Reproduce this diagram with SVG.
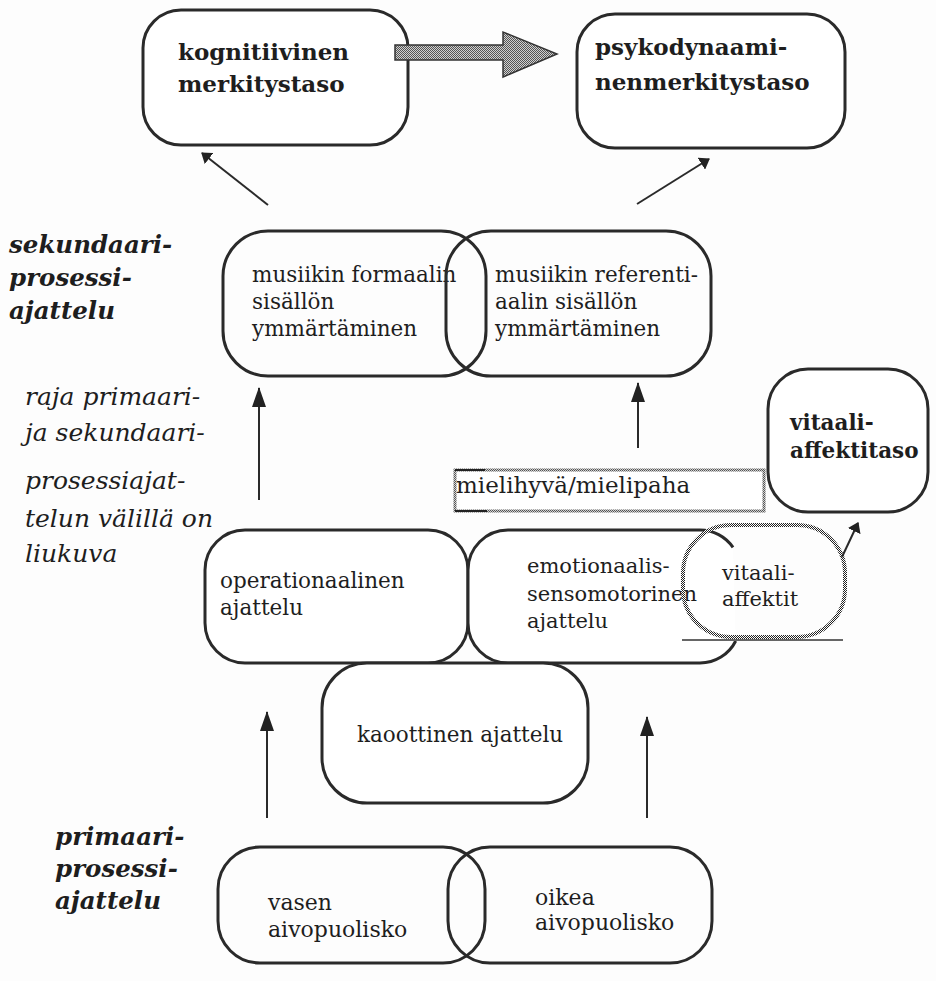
<svg xmlns="http://www.w3.org/2000/svg" width="936" height="981" viewBox="0 0 936 981">
<defs>
<pattern id="dither" width="2" height="2" patternUnits="userSpaceOnUse">
<rect width="2" height="2" fill="#ffffff"/>
<rect width="1" height="1" fill="#222"/>
<rect x="1" y="1" width="1" height="1" fill="#222"/>
</pattern>
<pattern id="dither2" width="2" height="2" patternUnits="userSpaceOnUse">
<rect width="2" height="2" fill="#d0d0d0"/>
<rect width="1" height="1" fill="#555"/>
<rect x="1" y="1" width="1" height="1" fill="#555"/>
</pattern>
<marker id="ah" viewBox="0 0 10 14" refX="9" refY="7" markerWidth="10" markerHeight="14" markerUnits="userSpaceOnUse" orient="auto">
<path d="M0,0 L10,7 L0,14 z" fill="#222"/>
</marker>
<marker id="ahv" viewBox="0 0 20 14" refX="19" refY="7" markerWidth="20" markerHeight="14" markerUnits="userSpaceOnUse" orient="auto">
<path d="M0,0 L20,7 L0,14 z" fill="#222"/>
</marker>
</defs>
<style>
.box{fill:#fff;stroke:#2a2a2a;stroke-width:3}
.ol{fill:none;stroke:#2a2a2a;stroke-width:3}
.t{font-family:"DejaVu Serif","Liberation Serif",serif;font-size:21.5px;fill:#1e1e1e}
.tb{font-family:"DejaVu Serif","Liberation Serif",serif;font-size:23px;font-weight:bold;fill:#1e1e1e}
.ti{font-family:"DejaVu Serif","Liberation Serif",serif;font-size:25px;font-style:italic;fill:#1e1e1e}
.tbi{font-family:"DejaVu Serif","Liberation Serif",serif;font-size:24.5px;font-style:italic;font-weight:bold;fill:#1e1e1e}
.ar{stroke:#2a2a2a;stroke-width:2;fill:none}
</style>
<rect width="936" height="981" fill="#fdfdfd"/>

<g id="kognitiivinen">
<rect class="box" x="143" y="10" width="265" height="135" rx="38"/>
<text class="tb" x="178" y="60">kognitiivinen</text>
<text class="tb" x="178" y="92">merkitystaso</text>
</g>

<g id="psykodynaaminen">
<rect class="box" x="577" y="14" width="268" height="134" rx="38"/>
<text class="tb" x="595" y="55">psykodynaami-</text>
<text class="tb" x="595" y="90">nenmerkitystaso</text>
</g>

<g id="labels">
<text class="tbi" x="9" y="253">sekundaari-</text>
<text class="tbi" x="9" y="286">prosessi-</text>
<text class="tbi" x="9" y="319">ajattelu</text>
<text class="ti" x="25" y="405">raja primaari-</text>
<text class="ti" x="25" y="441">ja sekundaari-</text>
<text class="ti" x="25" y="489">prosessiajat-</text>
<text class="ti" x="25" y="527">telun välillä on</text>
<text class="ti" x="25" y="562">liukuva</text>
<text class="tbi" x="55" y="845">primaari-</text>
<text class="tbi" x="55" y="877">prosessi-</text>
<text class="tbi" x="55" y="909">ajattelu</text>
</g>

<g id="musiikin-formaalin">
<rect class="ol" x="223" y="231" width="263" height="145" rx="45"/>
<text class="t" x="252" y="282">musiikin formaalin</text>
<text class="t" x="252" y="309">sisällön</text>
<text class="t" x="252" y="336">ymmärtäminen</text>
</g>
<g id="musiikin-referentiaalin">
<rect class="ol" x="446" y="231" width="265" height="145" rx="45"/>
<text class="t" x="495" y="282">musiikin referenti-</text>
<text class="t" x="495" y="309">aalin sisällön</text>
<text class="t" x="495" y="336">ymmärtäminen</text>
</g>

<g id="vitaali-affektitaso">
<rect class="box" x="768" y="369" width="160" height="143" rx="40"/>
<text class="tb" x="790" y="430" style="font-size:21.5px">vitaali-</text>
<text class="tb" x="790" y="458" style="font-size:21.5px">affektitaso</text>
</g>

<g id="mielihyva">
<rect x="455" y="470" width="309" height="41" fill="#fff" stroke="url(#dither2)" stroke-width="3"/>
<path d="M455,470 h30 M455,511 h32" stroke="#222" stroke-width="2"/>
<text class="t" x="456" y="493" style="font-size:23px">mielihyvä/mielipaha</text>
</g>

<g id="operationaalinen">
<rect class="box" x="205" y="530" width="263" height="133" rx="40"/>
<text class="t" x="220" y="588">operationaalinen</text>
<text class="t" x="220" y="615">ajattelu</text>
</g>

<g id="emotionaalis">
<path class="box" d="M735.7,641 A40,40 0 0 1 700,663 H508 A40,40 0 0 1 468,623 V570 A40,40 0 0 1 508,530 H700 A40,40 0 0 1 733,547.4"/>
<text class="t" x="527" y="573" style="font-size:21px">emotionaalis-</text>
<text class="t" x="527" y="601" style="font-size:21px">sensomotorinen</text>
<text class="t" x="527" y="628" style="font-size:21px">ajattelu</text>
</g>

<g id="vitaaliaffektit">
<rect x="683" y="525" width="162" height="112" rx="48" fill="none" stroke="url(#dither)" stroke-width="4"/>
<line x1="682" y1="640" x2="843" y2="640" stroke="#666" stroke-width="2"/>
<text class="t" x="722" y="580" style="font-size:21px">vitaali-</text>
<text class="t" x="722" y="606" style="font-size:21px">affektit</text>
</g>

<g id="kaoottinen">
<rect class="box" x="322" y="663" width="266" height="140" rx="45"/>
<text class="t" x="357" y="742">kaoottinen ajattelu</text>
</g>

<g id="vasen">
<rect class="ol" x="218" y="847" width="267" height="116" rx="42"/>
<text class="t" x="268" y="910" style="font-size:22px">vasen</text>
<text class="t" x="268" y="937" style="font-size:22px">aivopuolisko</text>
</g>
<g id="oikea">
<rect class="ol" x="448" y="847" width="264" height="116" rx="42"/>
<text class="t" x="535" y="905" style="font-size:22px">oikea</text>
<text class="t" x="535" y="930" style="font-size:22px">aivopuolisko</text>
</g>

<g id="connectors">
<path d="M395,45 H503 V32 L557,54 L503,77 V60 H395 z" fill="url(#dither2)" stroke="#333" stroke-width="1.5"/>
<line class="ar" x1="268" y1="205" x2="202" y2="153" marker-end="url(#ah)"/>
<line class="ar" x1="637" y1="204" x2="709" y2="159" marker-end="url(#ah)"/>
<line class="ar" x1="259" y1="500" x2="259" y2="388" marker-end="url(#ahv)"/>
<line class="ar" x1="638" y1="448" x2="638" y2="383" marker-end="url(#ahv)"/>
<line class="ar" x1="842" y1="557" x2="858" y2="523" marker-end="url(#ah)"/>
<line class="ar" x1="267" y1="818" x2="267" y2="712" marker-end="url(#ahv)"/>
<line class="ar" x1="647" y1="818" x2="647" y2="717" marker-end="url(#ahv)"/>
</g>
</svg>
